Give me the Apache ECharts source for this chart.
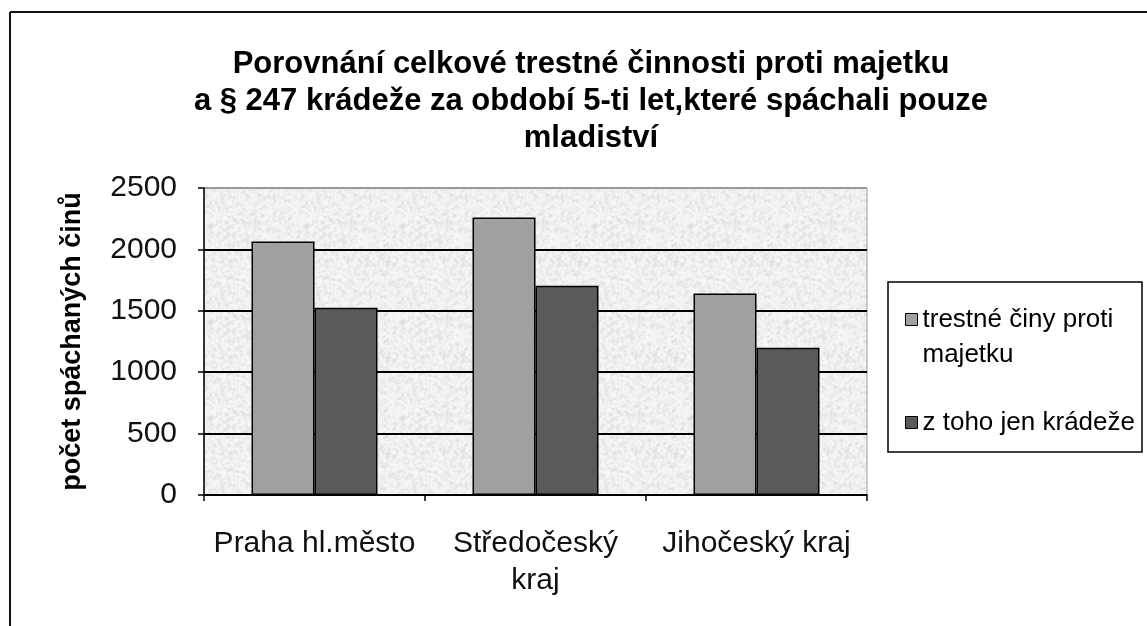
<!DOCTYPE html>
<html>
<head>
<meta charset="utf-8">
<script src="https://cdn.jsdelivr.net/npm/echarts@6/dist/echarts.min.js"></script>
<style>
html,body{margin:0;padding:0;background:#fff;}
#c{width:1147px;height:626px;}
</style>
</head>
<body>
<div id="c"></div>
<script>
// ---- data ----
var categories = ['Praha hl.město', 'Středočeský kraj', 'Jihočeský kraj'];
var categoryLabels = ['Praha hl.město', 'Středočeský\nkraj', 'Jihočeský kraj'];
var seriesNames = ['trestné činy proti majetku', 'z toho jen krádeže'];
var legendLabels = ['\ntrestné činy proti\nmajetku', 'z toho jen krádeže'];
var trestneCiny = [2065, 2260, 1640];
var kradeze = [1525, 1705, 1200];
var yTicks = [0, 500, 1000, 1500, 2000, 2500];
var titleLines = ['Porovnání celkové trestné činnosti proti majetku', 'a § 247 krádeže za období 5-ti let,které spáchali pouze', 'mladiství'];
var yAxisName = 'počet spáchaných činů';

// ---- deterministic soft granite-like texture for plot background ----
function hash(x, y) {
  var n = Math.imul(x, 374761393) + Math.imul(y, 668265263);
  n = Math.imul(n ^ (n >>> 13), 1274126177);
  n = n ^ (n >>> 16);
  return (n >>> 0) / 4294967296;
}
var S = 96;
var raw = [];
for (var yy = 0; yy < S; yy++) for (var xx = 0; xx < S; xx++) raw.push(hash(xx, yy));
var tex = document.createElement('canvas');
tex.width = S; tex.height = S;
var tctx = tex.getContext('2d');
var img = tctx.createImageData(S, S);
for (var yy = 0; yy < S; yy++) {
  for (var xx = 0; xx < S; xx++) {
    var sum = 0;
    for (var dy = -1; dy <= 1; dy++) for (var dx = -1; dx <= 1; dx++) {
      sum += raw[((yy + dy + S) % S) * S + ((xx + dx + S) % S)];
    }
    var m = sum / 9; // 0..1, centered near 0.5
    var d = Math.max(0, m - 0.45);
    var g = Math.round(246 - d * 70 - raw[yy * S + xx] * 4);
    var i = (yy * S + xx) * 4;
    img.data[i] = g; img.data[i + 1] = g; img.data[i + 2] = g; img.data[i + 3] = 255;
  }
}
tctx.putImageData(img, 0, 0);

var FONT = '"Liberation Sans", Arial, sans-serif';
var chart = echarts.init(document.getElementById('c'), null, {renderer: 'canvas'});
var gridLeft = 204, gridTop = 188, gridRight = 280, gridBottom = 131;

chart.setOption({
  animation: false,
  backgroundColor: '#fff',
  title: {
    text: titleLines.join('\n'),
    left: 586,
    top: 41,
    textAlign: 'center',
    textStyle: {fontFamily: FONT, fontWeight: 'bold', fontSize: 31, lineHeight: 37, color: '#000'}
  },
  legend: {
    orient: 'vertical',
    left: 900,
    top: 262,
    itemWidth: 12,
    itemHeight: 12,
    itemGap: 33,
    icon: 'rect',
    data: seriesNames,
    formatter: function (name) { return legendLabels[seriesNames.indexOf(name)]; },
    textStyle: {fontFamily: FONT, fontSize: 26, lineHeight: 35, color: '#000'},
    itemStyle: {borderColor: '#000', borderWidth: 1}
  },
  grid: {
    left: gridLeft, top: gridTop, right: gridRight, bottom: gridBottom,
    show: true,
    backgroundColor: {image: tex, repeat: 'repeat'},
    borderColor: '#9a9a9a',
    borderWidth: 1
  },
  xAxis: {
    type: 'category',
    data: categories,
    axisLine: {lineStyle: {color: '#000', width: 1.5}},
    axisTick: {show: true, length: 6, lineStyle: {color: '#000', width: 1.5}},
    axisLabel: {
      interval: 0,
      fontFamily: FONT, fontSize: 30, lineHeight: 37, color: '#111', margin: 30,
      formatter: function (v) { return categoryLabels[categories.indexOf(v)]; }
    }
  },
  yAxis: {
    type: 'value',
    min: yTicks[0],
    max: yTicks[yTicks.length - 1],
    interval: yTicks[1] - yTicks[0],
    name: yAxisName,
    nameLocation: 'middle',
    nameRotate: 90,
    nameGap: 118,
    nameTextStyle: {fontFamily: FONT, fontWeight: 'bold', fontSize: 27, color: '#000'},
    axisLine: {show: true, lineStyle: {color: '#000', width: 1.5}},
    axisTick: {show: true, length: 6, lineStyle: {color: '#000', width: 1.5}},
    axisLabel: {fontFamily: FONT, fontSize: 30, color: '#111', margin: 27, formatter: function (v) { return String(v); }},
    splitLine: {show: true, lineStyle: {color: ['#000', '#000', '#000', '#000', '#000', '#9a9a9a'], width: 2}}
  },
  series: [
    {
      name: seriesNames[0],
      type: 'bar',
      data: trestneCiny,
      barGap: '0%',
      barCategoryGap: '43%',
      itemStyle: {color: '#a0a0a0', borderColor: '#000', borderWidth: 1.5}
    },
    {
      name: seriesNames[1],
      type: 'bar',
      data: kradeze,
      itemStyle: {color: '#5a5a5a', borderColor: '#000', borderWidth: 1.5}
    }
  ],
  graphic: [
    {type: 'line', shape: {x1: 10, y1: 12, x2: 1147, y2: 12}, style: {stroke: '#111', lineWidth: 2}, silent: true},
    {type: 'line', shape: {x1: 10, y1: 12, x2: 10, y2: 626}, style: {stroke: '#111', lineWidth: 2}, silent: true},
    {type: 'rect', shape: {x: 888, y: 282, width: 254, height: 170}, style: {fill: 'none', stroke: '#000', lineWidth: 1.5}, silent: true, z: -1}
  ]
});
</script>
</body>
</html>
